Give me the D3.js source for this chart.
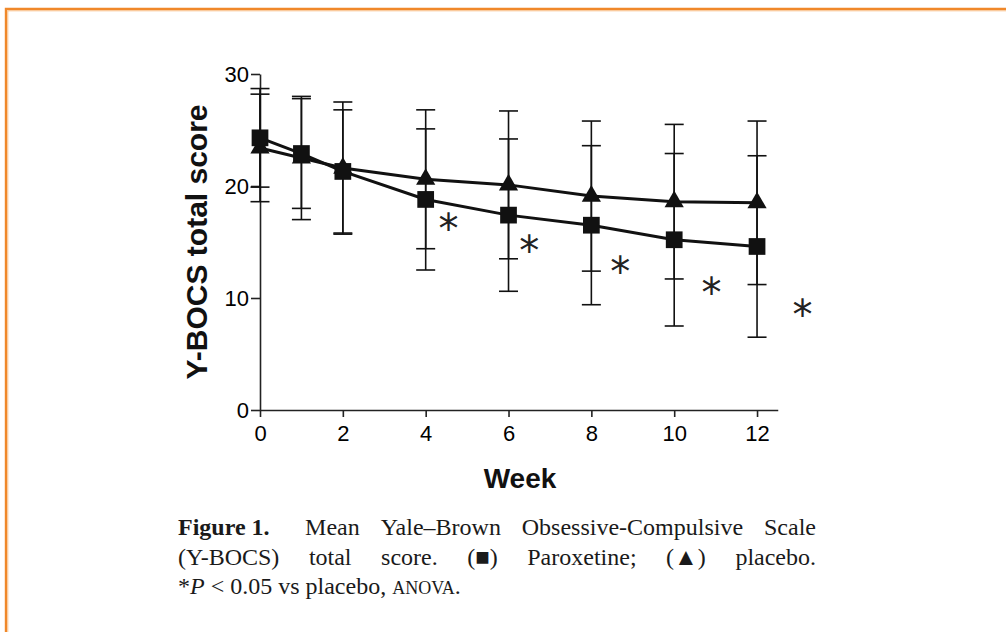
<!DOCTYPE html>
<html>
<head>
<meta charset="utf-8">
<script src="https://cdn.jsdelivr.net/npm/d3@7"></script>
<style>
  body { margin: 0; background: #fff; }
  svg { display: block; }
  .axis text { font-family: "Liberation Sans", Arial, sans-serif; font-size: 22px; fill: #000; }
  .axis path, .axis line { stroke: #222; stroke-width: 1.6px; }
  .atitle { font-family: "Liberation Sans", Arial, sans-serif; font-weight: bold; fill: #111; }
  .cap { font-family: "Liberation Serif", "Times New Roman", serif; font-size: 24px; fill: #1a1a1a; }
</style>
</head>
<body>
<div id="chart"></div>
<script>
// data
var weeks = [0, 1, 2, 4, 6, 8, 10, 12];
var paroxetineMean = [24.3, 22.9, 21.3, 18.8, 17.4, 16.5, 15.2, 14.6];
var paroxetineSD = [4.4, 4.9, 5.5, 6.3, 6.8, 7.1, 7.7, 8.1];
var placeboMean = [23.4, 22.5, 21.6, 20.6, 20.1, 19.1, 18.6, 18.5];
var placeboSD = [4.8, 5.5, 5.9, 6.2, 6.6, 6.7, 6.9, 7.3];
var xTicks = [0, 2, 4, 6, 8, 10, 12];
var yTicks = [0, 10, 20, 30];
// significance asterisks (week, score)
var starWeek = [4.55, 6.5, 8.7, 10.9, 13.1];
var starScore = [16.9, 14.9, 13.0, 11.2, 9.2];

var W = 1006, H = 632;
var svg = d3.select("#chart").append("svg")
    .attr("width", W)
    .attr("height", H);

// orange frame (open on the right and bottom)
svg.append("path")
    .attr("d", "M6," + H + "V9H" + W)
    .attr("fill", "none")
    .attr("stroke", "#f0882a")
    .attr("stroke-width", 2.4);
svg.append("path")
    .attr("d", "M7.8," + H + "V10.8H" + W)
    .attr("fill", "none")
    .attr("stroke", "#f9c08a")
    .attr("stroke-width", 1);

var x = d3.scaleLinear().domain([0, 12.5]).range([260, 260 + 12.5 * 41.42]);
var y = d3.scaleLinear().domain([0, 30]).range([410, 74]);

svg.append("g")
    .attr("class", "axis")
    .attr("transform", "translate(0,410)")
    .call(d3.axisBottom(x).tickValues(xTicks).tickSize(7).tickSizeOuter(0).tickPadding(8).tickFormat(d3.format("d")));

svg.append("g")
    .attr("class", "axis")
    .attr("transform", "translate(260,0)")
    .call(d3.axisLeft(y).tickValues(yTicks).tickSize(9).tickSizeOuter(0).tickPadding(2).tickFormat(d3.format("d")));

svg.append("text")
    .attr("class", "atitle")
    .attr("font-size", 30)
    .attr("transform", "translate(207,242) rotate(-90)")
    .attr("text-anchor", "middle")
    .text("Y-BOCS total score");

svg.append("text")
    .attr("class", "atitle")
    .attr("font-size", 28)
    .attr("x", 520)
    .attr("y", 488)
    .attr("text-anchor", "middle")
    .text("Week");

var series = [
  { name: "placebo", mean: placeboMean, sd: placeboSD, shape: d3.symbolTriangle, size: 160 },
  { name: "paroxetine", mean: paroxetineMean, sd: paroxetineSD, shape: d3.symbolSquare, size: 280 }
];

var capW = 9.5;
var plot = svg.append("g");

// error bars
series.forEach(function(s) {
  var eb = plot.append("g")
      .attr("stroke", "#111")
      .attr("stroke-width", 1.6)
      .attr("fill", "none");
  weeks.forEach(function(w, i) {
    var lo = y(s.mean[i] - s.sd[i]), hi = y(s.mean[i] + s.sd[i]), cx = x(w);
    eb.append("line").attr("x1", cx).attr("x2", cx).attr("y1", lo).attr("y2", hi);
    eb.append("line").attr("x1", cx - capW).attr("x2", cx + capW).attr("y1", lo).attr("y2", lo);
    eb.append("line").attr("x1", cx - capW).attr("x2", cx + capW).attr("y1", hi).attr("y2", hi);
  });
});

var line = d3.line()
    .x(function(d) { return x(d[0]); })
    .y(function(d) { return y(d[1]); });

series.forEach(function(s) {
  plot.append("path")
      .datum(weeks.map(function(w, i) { return [w, s.mean[i]]; }))
      .attr("d", line)
      .attr("fill", "none")
      .attr("stroke", "#111")
      .attr("stroke-width", 3);
});

series.forEach(function(s) {
  plot.selectAll(null)
      .data(weeks.map(function(w, i) { return [w, s.mean[i]]; }))
      .enter().append("path")
      .attr("transform", function(d) { return "translate(" + x(d[0]) + "," + y(d[1]) + ")"; })
      .attr("d", d3.symbol().type(s.shape).size(s.size))
      .attr("fill", "#111");
});

// asterisks
plot.selectAll(".star")
    .data(starWeek.map(function(w, i) { return [w, starScore[i]]; }))
    .enter().append("text")
    .attr("class", "star")
    .attr("x", function(d) { return x(d[0]); })
    .attr("y", function(d) { return y(d[1]) + 22; })
    .attr("text-anchor", "middle")
    .attr("font-family", "DejaVu Sans, sans-serif")
    .attr("font-size", 40)
    .attr("fill", "#222")
    .text("*");

// caption, justified between two edges
var capLeft = 178, capRight = 816;

function justified(words, yy, firstGap) {
  var t = svg.append("text").attr("class", "cap").attr("y", yy);
  var spans = words.map(function(w) {
    var sp = t.append("tspan").text(w.t);
    if (w.b) sp.attr("font-weight", "bold");
    return sp;
  });
  var widths = spans.map(function(sp) { return sp.node().getComputedTextLength(); });
  var total = d3.sum(widths);
  var weights = widths.slice(1).map(function(d, i) { return i === 0 ? firstGap : 1; });
  var unit = (capRight - capLeft - total) / d3.sum(weights);
  var pos = capLeft;
  spans.forEach(function(sp, i) {
    sp.attr("x", pos);
    pos += widths[i] + (i < weights.length ? weights[i] * unit : 0);
  });
}

justified([
  { t: "Figure 1.", b: true }, { t: "Mean" }, { t: "Yale–Brown" },
  { t: "Obsessive-Compulsive" }, { t: "Scale" }
], 535, 1.7);

justified([
  { t: "(Y-BOCS)" }, { t: "total" }, { t: "score." }, { t: "(■)" },
  { t: "Paroxetine;" }, { t: "(▲)" }, { t: "placebo." }
], 565, 1);

var l3 = svg.append("text").attr("class", "cap").attr("x", capLeft).attr("y", 594);
l3.append("tspan").text("*");
l3.append("tspan").attr("font-style", "italic").text("P");
l3.append("tspan").text(" < 0.05 vs placebo, ");
l3.append("tspan").attr("font-size", "18px").text("ANOVA");
l3.append("tspan").text(".");
</script>
</body>
</html>
